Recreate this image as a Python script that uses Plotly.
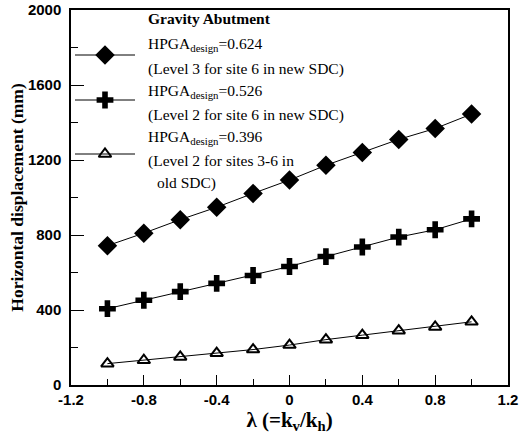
import plotly.graph_objects as go

# ---- data ----
lam = [-1.0, -0.8, -0.6, -0.4, -0.2, 0.0, 0.2, 0.4, 0.6, 0.8, 1.0]
disp_0624 = [743, 810, 882, 948, 1022, 1093, 1172, 1240, 1310, 1368, 1445]
disp_0526 = [407, 452, 498, 542, 584, 632, 685, 736, 789, 828, 886]
disp_0396 = [114, 132, 150, 170, 189, 213, 242, 266, 290, 310, 337]

x_tickvals = [-1.2, -0.8, -0.4, 0, 0.4, 0.8, 1.2]
x_ticktext = ["-1.2", "-0.8", "-0.4", "0", "0.4", "0.8", "1.2"]
y_tickvals = [0, 400, 800, 1200, 1600, 2000]
y_ticktext = ["0", "400", "800", "1200", "1600", "2000"]

legend_title = "Gravity Abutment"
legend_lines = [
    ["HPGA<sub>design</sub>=0.624", "(Level 3 for site 6 in new SDC)"],
    ["HPGA<sub>design</sub>=0.526", "(Level 2 for site 6 in new SDC)"],
    ["HPGA<sub>design</sub>=0.396", "(Level 2 for sites 3-6 in", "old SDC)"],
]

series = [
    (disp_0624, dict(symbol="diamond", size=15, color="black")),
    (disp_0526, dict(symbol="cross", size=14, color="black")),
    (disp_0396, dict(symbol="triangle-up-open", size=11, color="black",
                     line=dict(width=2, color="black"))),
]

fig = go.Figure()
for ys, mk in series:
    fig.add_trace(go.Scatter(x=lam, y=ys, mode="lines+markers",
                             line=dict(color="black", width=1),
                             marker=mk, showlegend=False))

# ---- legend drawn on a pixel overlay axis ----
leg_y = [55, 100, 154]
for (ys, mk), yy in zip(series, leg_y):
    fig.add_trace(go.Scatter(x=[75, 135], y=[yy, yy], mode="lines",
                             line=dict(color="black", width=1),
                             xaxis="x2", yaxis="y2", showlegend=False))
    fig.add_trace(go.Scatter(x=[105], y=[yy], mode="markers", marker=mk,
                             xaxis="x2", yaxis="y2", showlegend=False))

serif = "Liberation Serif"
fig.add_annotation(x=146, y=18, xref="x2", yref="y2", text="<b>" + legend_title + "</b>",
                   showarrow=False, xanchor="left", yanchor="middle",
                   font=dict(family=serif, size=15.5, color="black"))
text_pos = [[(146, 44), (146, 69)], [(146, 91), (146, 115)],
            [(146, 137), (146, 161), (155, 183)]]
for lines, poss in zip(legend_lines, text_pos):
    for t, (px, py) in zip(lines, poss):
        fig.add_annotation(x=px, y=py, xref="x2", yref="y2", text=t,
                           showarrow=False, xanchor="left", yanchor="middle",
                           font=dict(family=serif, size=15.5, color="black"))

tickfont = dict(family="Liberation Sans", size=15, color="black", weight="bold")
fig.update_layout(
    width=520, height=443,
    margin=dict(l=71, r=12, t=10, b=58),
    paper_bgcolor="white", plot_bgcolor="white",
    xaxis=dict(range=[-1.2, 1.2], tickvals=x_tickvals, ticktext=x_ticktext,
               ticks="inside", ticklen=10, tickwidth=1, tickcolor="black",
               minor=dict(ticks="inside", ticklen=6, dtick=0.2, tick0=0, tickcolor="black"),
               showline=True, linecolor="black", linewidth=1.5, mirror=True,
               showgrid=False, zeroline=False, tickfont=tickfont, automargin=False,
               title=dict(text="λ (=k<sub>v</sub>/k<sub>h</sub>)", standoff=2,
                          font=dict(family=serif, size=21, color="black", weight="bold"))),
    yaxis=dict(range=[0, 2000], tickvals=y_tickvals, ticktext=y_ticktext,
               ticks="inside", ticklen=13, tickwidth=1, tickcolor="black",
               minor=dict(ticks="inside", ticklen=7, dtick=200, tick0=0, tickcolor="black"),
               showline=True, linecolor="black", linewidth=1.5, mirror=True,
               showgrid=False, zeroline=False, tickfont=tickfont, ticklabelstandoff=5,
               automargin=False,
               title=dict(text="Horizontal displacement (mm)", standoff=0,
                          font=dict(family=serif, size=17.5, color="black", weight="bold"))),
    xaxis2=dict(range=[71, 508], overlaying="x", visible=False, fixedrange=True),
    yaxis2=dict(range=[385, 10], overlaying="y", visible=False, fixedrange=True),
)

fig.write_html("out.html", config={"displayModeBar": False},
               post_script="document.body.style.margin='0';document.body.style.overflow='hidden';")
